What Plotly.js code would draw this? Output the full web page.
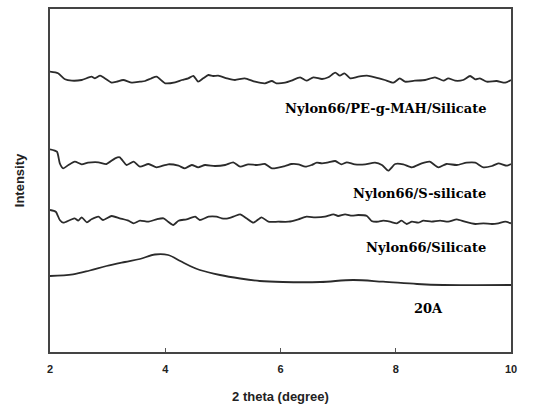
<!DOCTYPE html>
<html>
<head>
<meta charset="utf-8">
<script src="https://cdn.plot.ly/plotly-3.0.1.min.js"></script>
<style>html,body{margin:0;padding:0;background:#fff;}#chart{width:543px;height:409px;}</style>
</head>
<body>
<div id="chart"></div>
<script>
// Sample names
const seriesNames = ["Nylon66/PE-g-MAH/Silicate", "Nylon66/S-silicate", "Nylon66/Silicate", "20A"];

// Nylon66/PE-g-MAH/Silicate
const xPE = [2.00,2.14,2.26,2.38,2.55,2.72,2.78,2.87,2.95,3.07,3.16,3.27,3.42,3.56,3.65,3.76,3.85,4.00,4.17,4.29,
  4.40,4.49,4.57,4.66,4.75,4.83,4.92,5.07,5.21,5.38,5.56,5.73,5.85,5.93,6.08,6.19,6.34,6.45,6.57,6.72,
  6.83,6.95,7.03,7.11,7.21,7.35,7.50,7.64,7.81,7.96,8.07,8.16,8.33,8.51,8.68,8.83,8.91,9.03,9.17,9.29,
  9.38,9.46,9.58,9.75,9.90,10.00];
const yPE = [280.3,278.7,272.7,271.3,272,275.3,273.7,276.3,273.7,269.3,270.3,272,269.3,270.3,271,273.7,275.3,268.7,269.7,272,
  273.7,276,270.3,273.7,277,276,276.3,273.7,272,273.7,270.3,268.7,271,268.7,269.3,271.3,274.7,271.3,274.7,273,
  274.7,279.3,276.3,278.7,273.7,275.3,276.3,274.7,272,269.3,273.7,270.3,271.3,272,274.7,271.3,273.7,271.3,272,276,
  272.7,273.7,270.3,271,269.3,272];

// Nylon66/S-silicate
const xS = [2.00,2.12,2.17,2.23,2.32,2.43,2.55,2.66,2.84,2.98,3.13,3.21,3.33,3.45,3.56,3.71,3.85,4.05,4.23,4.34,
  4.46,4.57,4.69,4.86,5.04,5.18,5.30,5.44,5.59,5.73,5.85,6.08,6.19,6.31,6.43,6.54,6.63,6.72,6.83,6.95,
  7.06,7.15,7.29,7.47,7.64,7.76,7.87,7.99,8.13,8.28,8.45,8.59,8.74,8.88,9.06,9.23,9.38,9.52,9.67,9.78,
  9.93,10.00];
const yS = [202.7,200.3,188.7,183.7,187,190.3,187.7,189.3,189.7,188,193.7,194.7,187,190.3,185.3,188,184.7,187.7,186.3,183.7,
  187,184.7,187,186,187,189.7,185.3,187.7,187,188,183.7,186,188,187.7,185.3,187,189.3,188.7,189.7,191,
  187.7,189.7,187.7,187.7,189.3,187,181.3,188,187.7,184.7,188.7,190.3,184.7,188,187,189.3,189.3,184.7,186,188.7,
  186.3,188];

// Nylon66/Silicate
const xSi = [2.00,2.10,2.17,2.23,2.35,2.43,2.49,2.55,2.64,2.72,2.84,2.92,3.07,3.21,3.36,3.45,3.56,3.71,3.85,3.97,
  4.05,4.14,4.23,4.37,4.52,4.60,4.75,4.89,4.98,5.09,5.21,5.30,5.41,5.53,5.67,5.79,5.96,6.14,6.31,6.45,
  6.60,6.77,6.92,7.00,7.12,7.24,7.35,7.50,7.58,7.70,7.78,7.90,8.02,8.10,8.19,8.28,8.39,8.48,8.62,8.77,
  8.91,9.06,9.20,9.38,9.52,9.67,9.78,9.90,10.00];
const ySi = [142,140.3,132,129.3,132,133.7,131.3,134.7,129.7,132.7,135.3,132,136,133.7,131.3,128.7,131.3,130.3,132.7,133.7,
  130.3,127,131.3,132.7,135.3,132,135.3,135.3,133.7,133.7,136,137.7,133.7,129.3,134.7,130.3,130.3,130.3,132.7,135.3,
  134.7,135.3,137.7,136,137.7,136.3,137,136,131,130.3,131.3,130.3,128.7,131.3,128,130.3,129.3,131.3,130.3,131.3,
  130.3,132.7,130.3,128,128.7,128,128.7,130.3,128.7];

// 20A
const x20A = [2.00,2.40,2.69,2.98,3.30,3.56,3.82,4.05,4.26,4.43,4.60,4.95,5.30,5.64,6.04,6.69,7.26,7.78,8.37,8.82,10.00];
const y20A = [76,77.7,81.5,86,90,93,97.5,97,91,86,82,77,73.5,71,70,70,72,70.3,68,67,67];

// Axis ticks
const xTicks = [2, 4, 6, 8, 10];

const lineStyle = {color: '#2b2b2b', width: 1.8};
const traces = [
  {x: xPE, y: yPE, name: seriesNames[0], mode: 'lines', line: Object.assign({shape: 'spline', smoothing: 0.6}, lineStyle)},
  {x: xS, y: yS, name: seriesNames[1], mode: 'lines', line: Object.assign({shape: 'spline', smoothing: 0.6}, lineStyle)},
  {x: xSi, y: ySi, name: seriesNames[2], mode: 'lines', line: Object.assign({shape: 'spline', smoothing: 0.6}, lineStyle)},
  {x: x20A, y: y20A, name: seriesNames[3], mode: 'lines', line: Object.assign({shape: 'spline', smoothing: 1}, lineStyle)}
];

const labelFont = {family: 'DejaVu Serif, serif', size: 13, color: '#000'};
const annotations = [
  {x: 9.60, y: 244, text: '<b>' + seriesNames[0] + '</b>', xanchor: 'right'},
  {x: 9.60, y: 159, text: '<b>' + seriesNames[1] + '</b>', xanchor: 'right'},
  {x: 9.60, y: 105, text: '<b>' + seriesNames[2] + '</b>', xanchor: 'right'},
  {x: 8.56, y: 44, text: '<b>' + seriesNames[3] + '</b>', xanchor: 'center'}
].map(a => Object.assign({xref: 'x', yref: 'y', showarrow: false, font: labelFont, yanchor: 'middle'}, a));

const layout = {
  width: 543, height: 409,
  margin: {l: 50, r: 32, t: 9, b: 57},
  paper_bgcolor: '#fff', plot_bgcolor: '#fff',
  showlegend: false,
  xaxis: {
    range: [2, 10], tickvals: xTicks, ticktext: xTicks.map(String),
    ticks: 'inside', ticklen: 4, tickwidth: 1, tickcolor: '#555',
    ticklabelstandoff: 6,
    showline: true, linecolor: '#444', linewidth: 2, mirror: true,
    showgrid: false, zeroline: false,
    tickfont: {family: 'Liberation Sans, Arial, sans-serif', size: 11, color: '#222', weight: 'bold'},
    title: {text: '<b>2 theta (degree)</b>', font: {family: 'Liberation Sans, Arial, sans-serif', size: 13, color: '#222'}, standoff: 18}
  },
  yaxis: {
    range: [0, 343], showticklabels: false, ticks: '',
    showline: true, linecolor: '#444', linewidth: 2, mirror: true,
    showgrid: false, zeroline: false,
    title: {text: '<b>Intensity</b>', font: {family: 'Liberation Sans, Arial, sans-serif', size: 13, color: '#222'}, standoff: 20}
  },
  annotations: annotations
};

Plotly.newPlot('chart', traces, layout, {staticPlot: true, displayModeBar: false});
</script>
</body>
</html>
